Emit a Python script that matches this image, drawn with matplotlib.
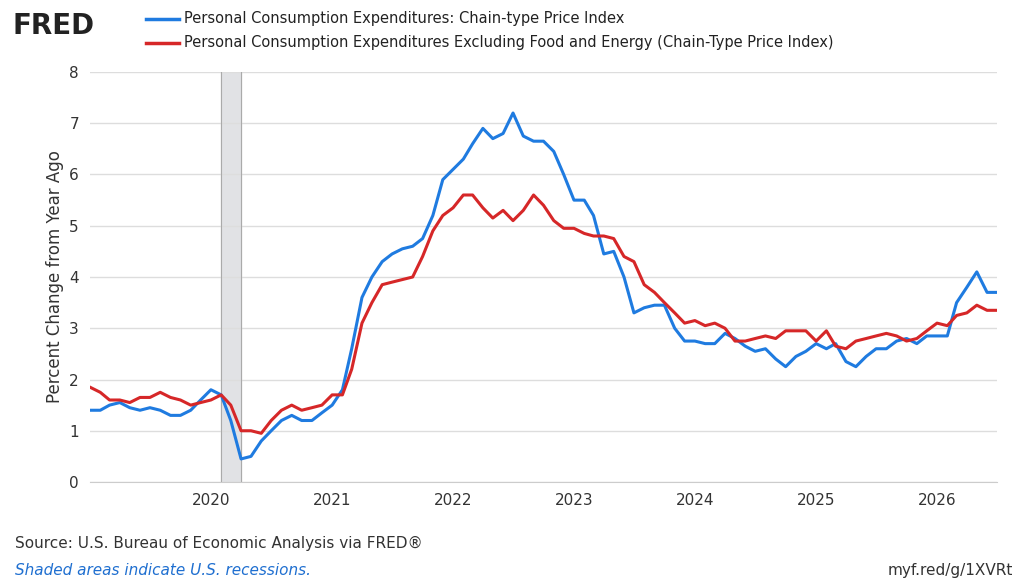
import matplotlib
matplotlib.use("Agg")
import matplotlib.pyplot as plt
import numpy as np
import pandas as pd

dates = pd.date_range("2019-01-01", "2026-07-01", freq="MS")
pce = [1.4,1.4,1.5,1.55,1.45,1.4,1.45,1.4,1.3,1.3,1.4,1.6,
       1.8,1.7,1.2,0.45,0.5,0.8,1.0,1.2,1.3,1.2,1.2,1.35,
       1.5,1.8,2.6,3.6,4.0,4.3,4.45,4.55,4.6,4.75,5.2,5.9,
       6.1,6.3,6.6,6.9,6.7,6.8,7.2,6.75,6.65,6.65,6.45,6.0,
       5.5,5.5,5.2,4.45,4.5,4.0,3.3,3.4,3.45,3.45,3.0,2.75,
       2.75,2.7,2.7,2.9,2.8,2.65,2.55,2.6,2.4,2.25,2.45,2.55,
       2.7,2.6,2.7,2.35,2.25,2.45,2.6,2.6,2.75,2.8,2.7,2.85,
       2.85,2.85,3.5,3.8,4.1,3.7,3.7]
core = [1.85,1.75,1.6,1.6,1.55,1.65,1.65,1.75,1.65,1.6,1.5,1.55,
        1.6,1.7,1.5,1.0,1.0,0.95,1.2,1.4,1.5,1.4,1.45,1.5,
        1.7,1.7,2.2,3.1,3.5,3.85,3.9,3.95,4.0,4.4,4.9,5.2,
        5.35,5.6,5.6,5.35,5.15,5.3,5.1,5.3,5.6,5.4,5.1,4.95,
        4.95,4.85,4.8,4.8,4.75,4.4,4.3,3.85,3.7,3.5,3.3,3.1,
        3.15,3.05,3.1,3.0,2.75,2.75,2.8,2.85,2.8,2.95,2.95,2.95,
        2.75,2.95,2.65,2.6,2.75,2.8,2.85,2.9,2.85,2.75,2.8,2.95,
        3.1,3.05,3.25,3.3,3.45,3.35,3.35]
years = [2020,2021,2022,2023,2024,2025,2026]
yticks = [0,1,2,3,4,5,6,7,8]

fig = plt.figure(figsize=(10.23,5.83), dpi=100)
ax = fig.add_axes([90/1023, 1-482/583, 907/1023, 410/583])
ax.axvspan(pd.Timestamp("2020-02-01"), pd.Timestamp("2020-04-01"), color="#e1e2e5", zorder=0)
ax.axvline(pd.Timestamp("2020-02-01"), color="#aaaaaa", lw=0.8)
ax.axvline(pd.Timestamp("2020-04-01"), color="#aaaaaa", lw=0.8)
ax.plot(dates, pce, color="#1f7be0", lw=2.2, zorder=3)
ax.plot(dates, core, color="#d62728", lw=2.2, zorder=3)
ax.set_xlim(dates[0], dates[-1])
ax.set_ylim(0, 8)
ax.set_yticks(yticks)
ax.set_xticks([pd.Timestamp(f"{y}-01-01") for y in years])
ax.set_xticklabels([str(y) for y in years])
ax.grid(axis="y", color="#dddddd", lw=1)
ax.tick_params(axis="both", length=0, labelsize=11, colors="#333333", pad=8)
for s in ["top","right","left"]:
    ax.spines[s].set_visible(False)
ax.spines["bottom"].set_color("#cccccc")
ax.set_ylabel("Percent Change from Year Ago", fontsize=12, color="#333333")
ax.set_axisbelow(True)

fig.text(0.012, 0.955, "FRED", fontsize=20, fontweight="bold", color="#222222", va="center")
fig.add_artist(plt.Line2D([0.143,0.175],[0.968,0.968], color="#1f7be0", lw=2.5))
fig.add_artist(plt.Line2D([0.143,0.175],[0.927,0.927], color="#d62728", lw=2.5))
fig.text(0.18, 0.968, "Personal Consumption Expenditures: Chain-type Price Index", fontsize=10.5, va="center", color="#222222")
fig.text(0.18, 0.927, "Personal Consumption Expenditures Excluding Food and Energy (Chain-Type Price Index)", fontsize=10.5, va="center", color="#222222")
fig.text(0.015, 0.068, "Source: U.S. Bureau of Economic Analysis via FRED®", fontsize=11, color="#333333", va="center")
fig.text(0.015, 0.022, "Shaded areas indicate U.S. recessions.", fontsize=11, color="#1f6fd0", style="italic", va="center")
fig.text(0.99, 0.022, "myf.red/g/1XVRt", fontsize=11, color="#333333", va="center", ha="right")
fig.savefig("out.png", dpi=100)
